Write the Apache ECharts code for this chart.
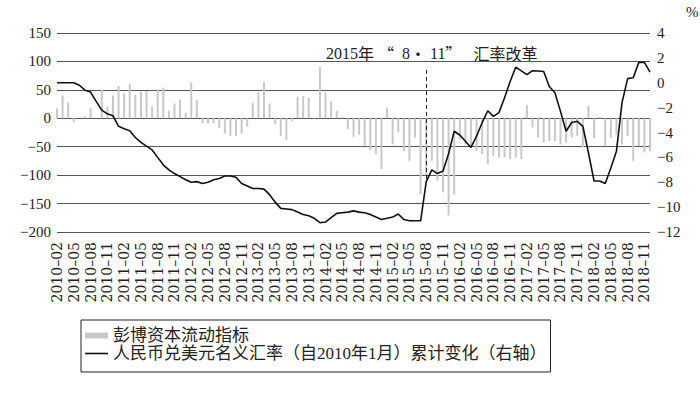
<!DOCTYPE html>
<html><head><meta charset="utf-8">
<script src="https://cdn.jsdelivr.net/npm/echarts@6/dist/echarts.min.js"></script>
<style>html,body{margin:0;padding:0;background:#fff}#c{width:700px;height:393px}</style>
</head><body><div id="c"></div>
<script>
const months = [
'2010-02','2010-03','2010-04','2010-05','2010-06','2010-07','2010-08','2010-09','2010-10','2010-11','2010-12',
'2011-01','2011-02','2011-03','2011-04','2011-05','2011-06','2011-07','2011-08','2011-09','2011-10','2011-11','2011-12',
'2012-01','2012-02','2012-03','2012-04','2012-05','2012-06','2012-07','2012-08','2012-09','2012-10','2012-11','2012-12',
'2013-01','2013-02','2013-03','2013-04','2013-05','2013-06','2013-07','2013-08','2013-09','2013-10','2013-11','2013-12',
'2014-01','2014-02','2014-03','2014-04','2014-05','2014-06','2014-07','2014-08','2014-09','2014-10','2014-11','2014-12',
'2015-01','2015-02','2015-03','2015-04','2015-05','2015-06','2015-07','2015-08','2015-09','2015-10','2015-11','2015-12',
'2016-01','2016-02','2016-03','2016-04','2016-05','2016-06','2016-07','2016-08','2016-09','2016-10','2016-11','2016-12',
'2017-01','2017-02','2017-03','2017-04','2017-05','2017-06','2017-07','2017-08','2017-09','2017-10','2017-11','2017-12',
'2018-01','2018-02','2018-03','2018-04','2018-05','2018-06','2018-07','2018-08','2018-09','2018-10','2018-11','2018-12'
];
// 彭博资本流动指标 (left axis)
const capitalFlow = [
17,40,28,-7,0,4,18,0,50,20,40,
57,44,60,41,47,48,21,51,54,13,26,33,
10,63,32,-9,-9,-9,-17,-27,-31,-31,-27,-15,
27,46,64,26,-10,-31,-38,-5,38,39,36,-1,
90,46,30,13,2,-19,-33,-29,-48,-56,-63,-89,
19,-46,-25,-58,-75,-34,-134,-100,-75,-110,-130,-171,
-134,-37,-46,-51,-57,-63,-81,-66,-69,-69,-72,-69,
-72,23,-16,-34,-43,-40,-40,-46,-43,-34,-31,-51,
22,-35,2,-49,-34,-28,-46,-31,-75,-49,-60,-58
];
// 人民币兑美元名义汇率累计变化 % (right axis)
const fxChange = [
0,0,0,0,-0.2,-0.6,-0.75,-1.5,-2.2,-2.5,-2.65,
-3.5,-3.7,-3.85,-4.4,-4.8,-5.1,-5.4,-6.0,-6.6,-7.0,-7.3,-7.55,
-7.8,-8.0,-7.95,-8.1,-8.0,-7.8,-7.7,-7.5,-7.5,-7.6,-8.1,-8.3,
-8.5,-8.5,-8.55,-9.0,-9.6,-10.1,-10.15,-10.2,-10.4,-10.6,-10.7,-10.9,
-11.25,-11.2,-10.85,-10.5,-10.45,-10.4,-10.3,-10.4,-10.45,-10.6,-10.8,-11.0,
-10.9,-10.8,-10.55,-11.0,-11.1,-11.1,-11.1,-7.95,-7.0,-7.3,-7.1,-5.7,
-3.9,-4.2,-4.7,-5.2,-4.3,-3.2,-2.25,-2.7,-2.4,-1.2,0.1,1.25,
0.95,0.65,0.97,0.95,0.9,-0.3,-0.8,-2.3,-3.9,-3.2,-3.1,-3.5,
-5.65,-7.9,-7.9,-8.1,-6.85,-5.5,-1.6,0.33,0.4,1.64,1.64,0.86
];
const leftRange = {min: -200, max: 150, step: 50};
const rightRange = {min: -12, max: 4, step: 2};
const eventMonth = '2015-08';
const eventSpan = [85, -108];
const legendNames = ['彭博资本流动指标', '人民币兑美元名义汇率（自2010年1月）累计变化（右轴）'];
const rightUnit = '%';

const minusFmt = v => String(v).replace('-', '\u2212');
const serif = 'Liberation Serif';
const chart = echarts.init(document.getElementById('c'), null, {renderer: 'svg'});
chart.setOption({
  animation: false,
  backgroundColor: '#fff',
  grid: {left: 57, right: 50, top: 33, bottom: 161},
  xAxis: {
    type: 'category', data: months, boundaryGap: false,
    axisLine: {show: false}, axisTick: {show: false},
    axisLabel: {interval: 2, rotate: 90, margin: 10, fontFamily: 'DejaVu Serif', fontSize: 14, color: '#222',
      formatter: s => s.replace('-', '\u2013')}
  },
  yAxis: [{
    type: 'value', min: leftRange.min, max: leftRange.max, interval: leftRange.step,
    axisLine: {show: false}, axisTick: {show: false},
    axisLabel: {fontFamily: serif, fontSize: 15, color: '#222', margin: 6, formatter: minusFmt},
    splitLine: {show: true, lineStyle: {color: '#555', width: 1}}
  }, {
    type: 'value', position: 'right', min: rightRange.min, max: rightRange.max, interval: rightRange.step,
    axisLine: {show: false}, axisTick: {show: false}, splitLine: {show: false},
    axisLabel: {fontFamily: serif, fontSize: 15, color: '#222', margin: 7, formatter: minusFmt}
  }],
  legend: {
    orient: 'vertical', left: 81, top: 320,
    borderColor: '#222', borderWidth: 1, padding: [7, 4, 10, 4],
    itemGap: 1, itemWidth: 23, itemHeight: 6, symbolKeepAspect: true,
    textStyle: {fontFamily: 'Liberation Serif, Noto Sans CJK SC', fontSize: 17, color: '#222'},
    data: [
      {name: legendNames[0], icon: 'rect'},
      {name: legendNames[1], icon: 'path://M0,0L23,0L23,1.6L0,1.6Z'}
    ]
  },
  graphic: [{
    type: 'text', left: 326, top: 45,
    style: {
      text: '{a|2015}{c|年}{a| }{c|“}{a|  8}{c|・}{a| 11}{c|”}{a|   }{c|汇率改革}',
      rich: {
        a: {fontFamily: serif, fontSize: 16, fill: '#222'},
        c: {fontFamily: 'Noto Sans CJK SC', fontSize: 16, fill: '#222'}
      }
    }
  }, {
    type: 'text', left: 686, top: 4,
    style: {text: rightUnit, fontFamily: serif, fontSize: 15, fill: '#222'}
  }],
  series: [{
    name: legendNames[0], type: 'bar', data: capitalFlow, barWidth: 2,
    itemStyle: {color: '#c8c8c8'},
    markLine: {
      silent: true, symbol: ['none', 'none'], label: {show: false},
      lineStyle: {type: [4, 3], color: '#222', width: 1},
      data: [[{coord: [eventMonth, eventSpan[0]]}, {coord: [eventMonth, eventSpan[1]]}]]
    }
  }, {
    name: legendNames[1], type: 'line', yAxisIndex: 1, data: fxChange,
    symbol: 'none', z: 5,
    lineStyle: {color: '#111', width: 1.6},
    itemStyle: {color: '#111'}
  }]
});
</script></body></html>
